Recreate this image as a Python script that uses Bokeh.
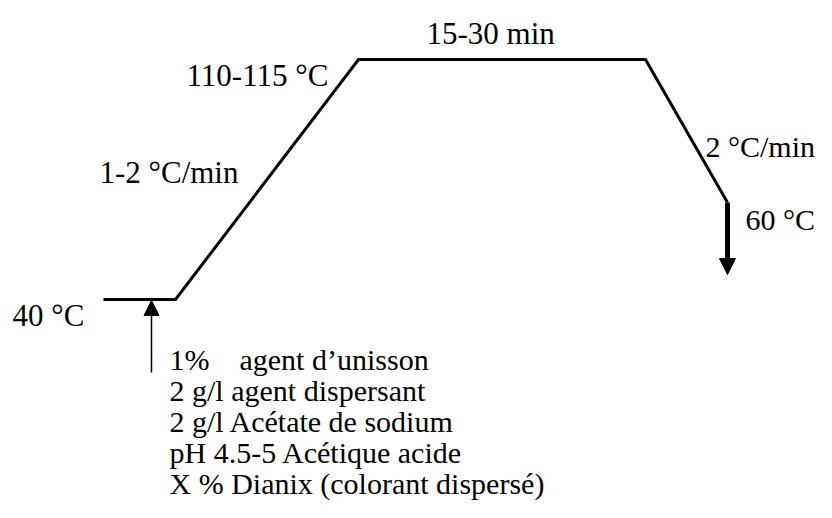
from bokeh.plotting import figure
from bokeh.models import Range1d, Arrow, NormalHead, ColumnDataSource
from bokeh.core.properties import value
from bokeh.embed import file_html
from bokeh.resources import INLINE

# Temperature profile of the dyeing cycle (diagram coordinates)
profile_x = [103, 175, 358, 645, 727]
profile_y = [299, 299, 59, 59, 202]

# Cooling drop arrow (after 60 °C) and dosing arrow (additions at 40 °C)
drop_arrow = (727, 202, 727, 274)
dose_arrow = (151, 372, 151, 300)

# Stage labels
label_text = ["40 °C", "1-2 °C/min", "110-115 °C", "15-30 min", "2 °C/min", "60 °C"]
label_x = [12, 99, 186, 426, 705, 745]
label_y = [315, 172, 75, 33, 146, 219]
label_size = ["31px", "31px", "31px", "31px", "30px", "30px"]

# Bath recipe
recipe_lines = [
    "1%\u00a0\u00a0\u00a0 agent d’unisson",
    "2 g/l agent dispersant",
    "2 g/l Acétate de sodium",
    "pH 4.5-5 Acétique acide",
    "X % Dianix (colorant dispersé)",
]
recipe_x = [169, 169, 169, 169, 169]
recipe_y = [359, 390, 421, 452, 483]

FONT = value("Liberation Serif")

p = figure(width=816, height=502, output_backend="svg", toolbar_location=None,
           x_range=Range1d(0, 816), y_range=Range1d(502, 0),
           min_border=0, outline_line_color=None)
p.xaxis.visible = False
p.yaxis.visible = False
p.grid.visible = False
p.background_fill_color = "white"
p.border_fill_color = "white"

p.line(profile_x, profile_y, line_width=3, line_color="black", line_join="miter")

x0, y0, x1, y1 = drop_arrow
p.add_layout(Arrow(x_start=x0, y_start=y0, x_end=x1, y_end=y1, line_width=5,
                   line_color="black",
                   end=NormalHead(size=16, fill_color="black", line_color="black", line_width=1)))
x0, y0, x1, y1 = dose_arrow
p.add_layout(Arrow(x_start=x0, y_start=y0, x_end=x1, y_end=y1, line_width=1.5,
                   line_color="black",
                   end=NormalHead(size=15, fill_color="black", line_color="black", line_width=1)))

src = ColumnDataSource(dict(x=label_x, y=label_y, t=label_text, s=label_size))
p.text(x="x", y="y", text="t", source=src, text_font=FONT, text_font_size="s",
       text_color="black", text_align="left", text_baseline="alphabetic")

src2 = ColumnDataSource(dict(x=recipe_x, y=recipe_y, t=recipe_lines))
p.text(x="x", y="y", text="t", source=src2, text_font=FONT, text_font_size="30px",
       text_color="black", text_align="left", text_baseline="alphabetic")

open("out.html", "w").write(file_html(p, INLINE))
